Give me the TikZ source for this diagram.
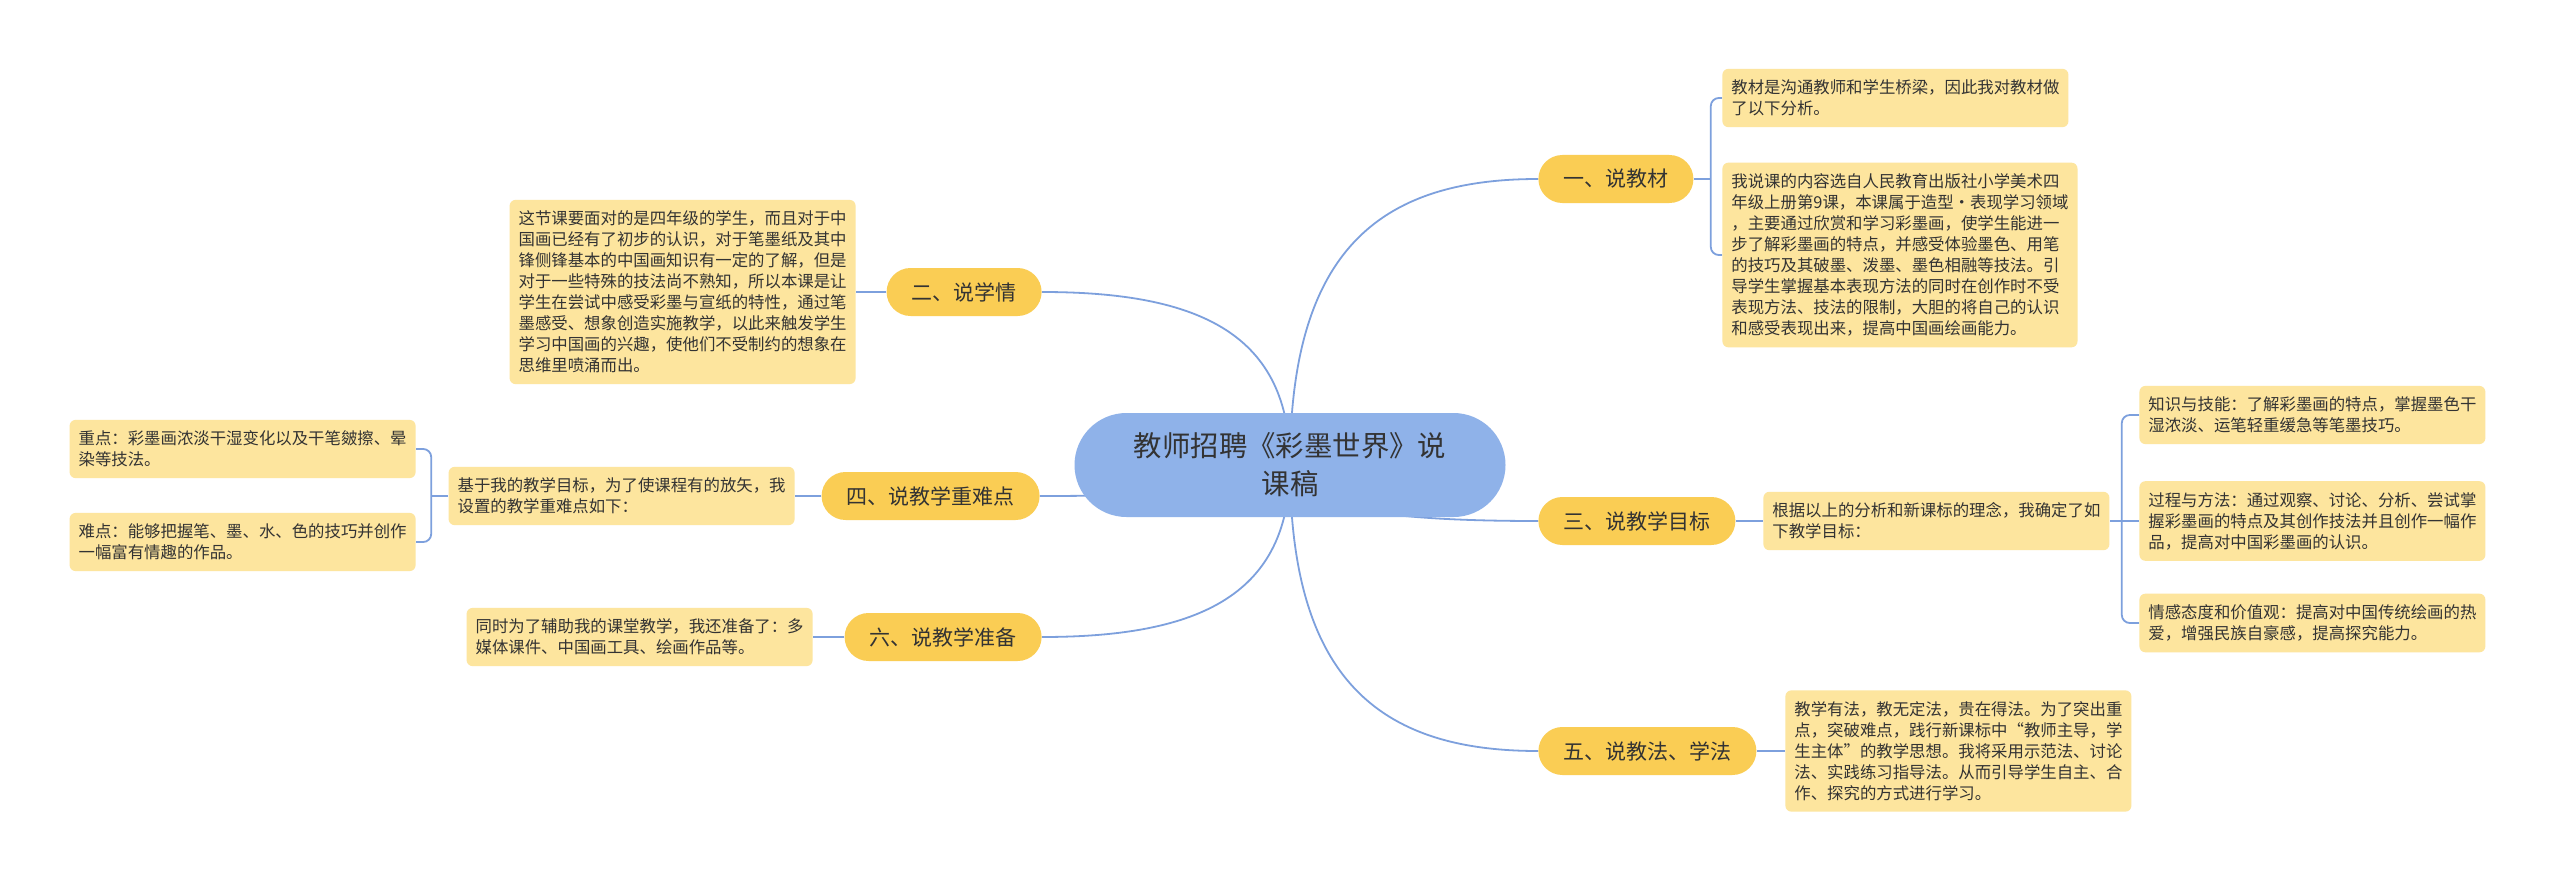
\documentclass[tikz,border=0pt]{standalone}
\usepackage{fontspec}
\setmainfont{Noto Sans CJK SC}
\usetikzlibrary{positioning,backgrounds}
\definecolor{RootBlue}{RGB}{143,178,233}
\definecolor{TopicGold}{RGB}{250,205,84}
\definecolor{NoteCream}{RGB}{253,229,158}
\definecolor{LinkBlue}{RGB}{125,160,221}
\definecolor{InkGray}{RGB}{51,51,51}

\begin{document}
\begin{tikzpicture}[
    x=0.5pt,
    y=-0.5pt,
    root/.style={
        fill=RootBlue,
        rounded corners=26pt,
        minimum width=215.5pt,
        minimum height=52pt,
        align=center,
        text=InkGray,
        font=\fontsize{14.2}{19}\selectfont
    },
    topic/.style={
        fill=TopicGold,
        rounded corners=12pt,
        minimum height=24pt,
        inner xsep=12.5pt,
        text=InkGray,
        font=\fontsize{10.5}{12}\selectfont
    },
    note/.style={
        fill=NoteCream,
        rounded corners=3pt,
        inner xsep=4.5pt,
        inner ysep=5.5pt,
        align=left,
        text=InkGray,
        font=\fontsize{8.2}{10.5}\selectfont
    },
    link/.style={
        draw=LinkBlue,
        line width=0.9pt
    },
    brace/.style={
        link,
        rounded corners=4pt
    }
]

\path[use as bounding box] (0,0) rectangle (2560,883);

\node[root] (root) at (1290,465) {教师招聘《彩墨世界》说\\课稿};

\node[topic, anchor=west] (jiaocai) at (1538,179) {一、说教材};
\node[topic, anchor=east] (xueqing) at (1042,292) {二、说学情};
\node[topic, anchor=west] (mubiao) at (1538,521) {三、说教学目标};
\node[topic, anchor=east] (nandian) at (1040,496) {四、说教学重难点};
\node[topic, anchor=west] (jiaofa) at (1538,751) {五、说教法、学法};
\node[topic, anchor=east] (zhunbei) at (1042,637) {六、说教学准备};

\node[note, anchor=west] (jiaocaiA) at (1722,98) {教材是沟通教师和学生桥梁，因此我对教材做\\了以下分析。};
\node[note, anchor=west] (jiaocaiB) at (1722,255) {我说课的内容选自人民教育出版社小学美术四\\年级上册第9课，本课属于造型·表现学习领域\\，主要通过欣赏和学习彩墨画，使学生能进一\\步了解彩墨画的特点，并感受体验墨色、用笔\\的技巧及其破墨、泼墨、墨色相融等技法。引\\导学生掌握基本表现方法的同时在创作时不受\\表现方法、技法的限制，大胆的将自己的认识\\和感受表现出来，提高中国画绘画能力。};
\node[note, anchor=east] (xueqingA) at (856,292) {这节课要面对的是四年级的学生，而且对于中\\国画已经有了初步的认识，对于笔墨纸及其中\\锋侧锋基本的中国画知识有一定的了解，但是\\对于一些特殊的技法尚不熟知，所以本课是让\\学生在尝试中感受彩墨与宣纸的特性，通过笔\\墨感受、想象创造实施教学，以此来触发学生\\学习中国画的兴趣，使他们不受制约的想象在\\思维里喷涌而出。};
\node[note, anchor=east] (nandianA) at (795,496) {基于我的教学目标，为了使课程有的放矢，我\\设置的教学重难点如下：};
\node[note, anchor=east] (zhongdian) at (416,449) {重点：彩墨画浓淡干湿变化以及干笔皴擦、晕\\染等技法。};
\node[note, anchor=east] (nandianB) at (416,542) {难点：能够把握笔、墨、水、色的技巧并创作\\一幅富有情趣的作品。};
\node[note, anchor=west] (mubiaoA) at (1763,521) {根据以上的分析和新课标的理念，我确定了如\\下教学目标：};
\node[note, anchor=west] (zhishi) at (2139,415) {知识与技能：了解彩墨画的特点，掌握墨色干\\湿浓淡、运笔轻重缓急等笔墨技巧。};
\node[note, anchor=west] (guocheng) at (2139,521) {过程与方法：通过观察、讨论、分析、尝试掌\\握彩墨画的特点及其创作技法并且创作一幅作\\品，提高对中国彩墨画的认识。};
\node[note, anchor=west] (qinggan) at (2139,623) {情感态度和价值观：提高对中国传统绘画的热\\爱，增强民族自豪感，提高探究能力。};
\node[note, anchor=east] (zhunbeiA) at (813,637) {同时为了辅助我的课堂教学，我还准备了：多\\媒体课件、中国画工具、绘画作品等。};
\node[note, anchor=west] (jiaofaA) at (1785,751) {教学有法，教无定法，贵在得法。为了突出重\\点，突破难点，践行新课标中“教师主导，学\\生主体”的教学思想。我将采用示范法、讨论\\法、实践练习指导法。从而引导学生自主、合\\作、探究的方式进行学习。};

\begin{scope}[on background layer]
\fill[white] (0,0) rectangle (2560,883);
\draw[link] (root.center) .. controls +(0,-214) and +(-159,0) .. (jiaocai.west);
\draw[link] (root.center) .. controls +(0,-130) and +(159,0) .. (xueqing.east);
\draw[link] (root.center) .. controls +(0,42) and +(-159,0) .. (mubiao.west);
\draw[link] (root.center) .. controls +(0,23) and +(160,0) .. (nandian.east);
\draw[link] (root.center) .. controls +(0,214) and +(-159,0) .. (jiaofa.west);
\draw[link] (root.center) .. controls +(0,129) and +(159,0) .. (zhunbei.east);

\draw[link] (jiaocai.east) -- ++(17,0) coordinate (jiaocaiFork);
\draw[brace] (jiaocaiA.west) -| (jiaocaiFork) |- (jiaocaiB.west);
\draw[link] (xueqing.west) -- (xueqingA.east);
\draw[link] (nandian.west) -- (nandianA.east);
\draw[link] (nandianA.west) -- ++(-17,0) coordinate (nandianFork);
\draw[brace] (zhongdian.east) -| (nandianFork) |- (nandianB.east);
\draw[link] (mubiao.east) -- (mubiaoA.west);
\draw[link] (mubiaoA.east) -- ++(12,0) coordinate (mubiaoFork);
\draw[brace] (zhishi.west) -| (mubiaoFork) |- (qinggan.west);
\draw[link] (mubiaoFork) -- (guocheng.west);
\draw[link] (zhunbei.west) -- (zhunbeiA.east);
\draw[link] (jiaofa.east) -- (jiaofaA.west);
\end{scope}

\end{tikzpicture}
\end{document}
